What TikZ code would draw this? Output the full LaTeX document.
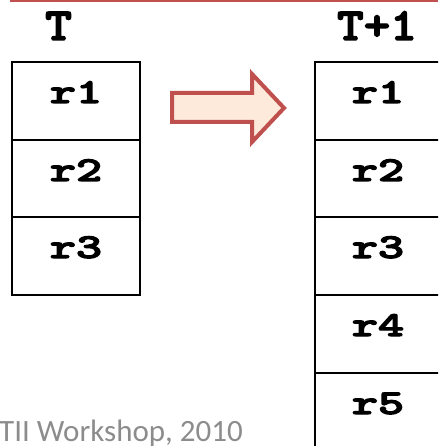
\documentclass[tikz,border=0pt]{standalone}
\usepackage{fontspec}
\newfontfamily\footfont{Carlito}
\newfontfamily\codefont{lmmonolt10-bold}[Extension=.otf,FakeBold=3]
\definecolor{accent}{HTML}{C0504D}
\definecolor{peach}{HTML}{FDEADA}
\definecolor{footgray}{HTML}{8C8C8C}
\begin{document}
\begin{tikzpicture}[x=1pt,y=-1pt,
  gridline/.style={draw=black,line width=2.5pt},
  hdr/.style={anchor=base,inner sep=0pt,font=\fontsize{46}{46}\selectfont\codefont},
  rowlabel/.style={anchor=base,inner sep=0pt,font=\fontsize{35}{35}\selectfont\codefont},
  foot/.style={anchor=base west,inner sep=0pt,text=footgray,font=\fontsize{31}{31}\selectfont\footfont}]
\useasboundingbox (0,0) rectangle (438,446);
% rule along the top edge
\draw[accent,line width=2pt] (10,1) -- (438,1);
% column headers
\node[hdr] (hT) at (58.5,40) {\scalebox{1.1}[1]{T}};
\node[hdr] (hT1) at (377,40) {\scalebox{1.1}[1]{T+1}};
% table at time T
\draw[gridline] (12,62) rectangle (140,295);
\foreach \y in {140,217}{ \draw[gridline] (12,\y) -- (140,\y); }
\foreach \i/\y in {1/62,2/140,3/217}{
  \node[rowlabel] (a\i) at (76,\y+41) {\scalebox{1.42}[1]{r\i}};
}
% table at time T+1 (runs past the right and bottom edges)
\begin{scope}
\clip (0,0) rectangle (438,446);
\draw[gridline] (315,62) rectangle (448,460);
\foreach \y in {140,217,295,373}{ \draw[gridline] (315,\y) -- (448,\y); }
\foreach \i/\y in {1/62,2/140,3/217,4/295,5/373}{
  \node[rowlabel] (b\i) at (378,\y+41) {\scalebox{1.42}[1]{r\i}};
}
\end{scope}
% block arrow between the tables
\draw[accent,fill=peach,line width=4pt,miter limit=10]
  (172,93) -- (252,93) -- (252,74) -- (284,108) -- (252,142) -- (252,122) -- (172,122) -- cycle;
% footer
\node[foot] (ft) at (-1,441) {TII Workshop, 2010};
\end{tikzpicture}
\end{document}
